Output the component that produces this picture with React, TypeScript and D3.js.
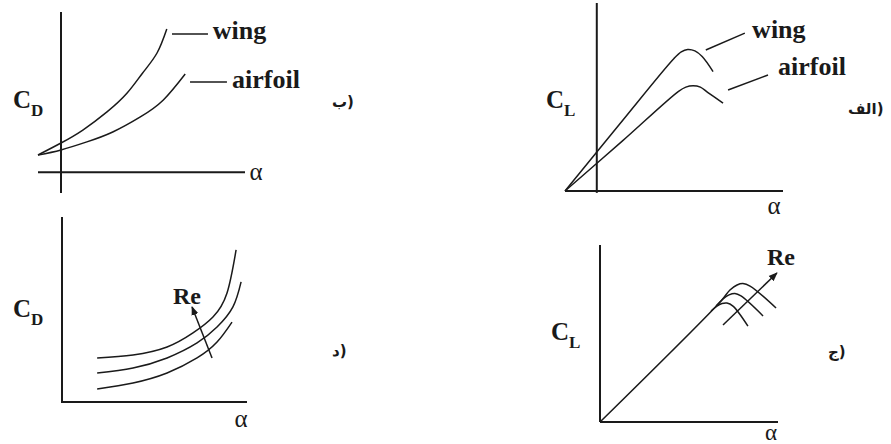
import React from "react";
import * as d3 from "d3";

// ---------- Panel الف (top right): C_L vs alpha, wing and airfoil ----------
const liftWingAlpha = [-3.5, 2.5, 8.5, 9.3, 10.0, 10.8, 11.6, 12.8];
const liftWingCL = [0, 0.71, 1.41, 1.48, 1.505, 1.49, 1.43, 1.27];
const liftAirfoilAlpha = [-3.5, 2.8, 9.0, 9.8, 10.6, 11.4, 12.2, 13.9];
const liftAirfoilCL = [0, 0.53, 1.06, 1.105, 1.12, 1.105, 1.05, 0.935];
const liftWingLeader = [[12.0, 1.5], [16.3, 1.68]];
const liftAirfoilLeader = [[14.45, 1.074], [18.85, 1.234]];
const liftWingText = [17.1, 1.628];
const liftAirfoilText = [19.95, 1.234];

// ---------- Panel ب (top left): C_D vs alpha, wing and airfoil ----------
const dragWingAlpha = [-2, 0, 1.9, 4.0, 5.75, 7.1, 8.35, 9.2];
const dragWingCD = [0.107, 0.182, 0.263, 0.376, 0.494, 0.619, 0.744, 0.894];
const dragAirfoilAlpha = [-2, 0, 2.25, 4.5, 6.9, 8.9, 10.8];
const dragAirfoilCD = [0.107, 0.139, 0.189, 0.251, 0.345, 0.451, 0.613];
const dragWingLeader = [[9.65, 0.863], [12.78, 0.863]];
const dragAirfoilLeader = [[11.22, 0.563], [14.43, 0.563]];
const dragWingText = [13.2, 0.831];
const dragAirfoilText = [14.87, 0.526];

// ---------- Panel د (bottom left): C_D vs alpha for several Re ----------
const dragRe1Alpha = [1.9, 3.84, 5.68, 7.08, 8.16, 8.92, 9.41];
const dragRe1CD = [0.238, 0.254, 0.297, 0.373, 0.459, 0.589, 0.822];
const dragRe2Alpha = [1.9, 3.84, 5.68, 7.3, 8.38, 9.24, 9.68];
const dragRe2CD = [0.157, 0.184, 0.238, 0.319, 0.405, 0.514, 0.649];
const dragRe3Alpha = [1.9, 3.84, 5.68, 7.3, 8.38, 9.19];
const dragRe3CD = [0.07, 0.103, 0.157, 0.238, 0.324, 0.432];
const dragReArrow = [[8.11, 0.238], [7.03, 0.514]];
const dragReText = [6.0, 0.53];

// ---------- Panel ج (bottom right): C_L vs alpha for several Re ----------
const liftRe1Alpha = [0, 6.8, 7.3, 7.7, 8.03, 8.43, 9.89];
const liftRe1CL = [0, 0.684, 0.746, 0.774, 0.782, 0.768, 0.644];
const liftRe2Alpha = [6.52, 6.91, 7.25, 7.58, 7.92, 9.16];
const liftRe2CL = [0.655, 0.695, 0.718, 0.726, 0.712, 0.599];
const liftRe3Alpha = [6.24, 6.57, 6.85, 7.13, 7.47, 8.31];
const liftRe3CL = [0.627, 0.655, 0.669, 0.672, 0.655, 0.542];
const liftReArrow = [[6.91, 0.548], [9.94, 0.842]];
const liftReText = [9.38, 0.887];

const panelLabels = ["الف)", "ب)", "ج)", "د)"];
const alphaLabel = "α";

const INK = "#1a1a1a";
const SERIF = "'Liberation Serif', 'Times New Roman', serif";
const ARABIC = "'DejaVu Sans', 'Noto Sans', sans-serif";

const zip = (xs: number[], ys: number[]) => xs.map((x, i) => [x, ys[i]] as [number, number]);

type Scales = { x: d3.ScaleLinear<number, number>; y: d3.ScaleLinear<number, number> };

function curvePath(s: Scales, pts: [number, number][], curve: d3.CurveFactory) {
  const gen = d3
    .line<[number, number]>()
    .x((d) => s.x(d[0]))
    .y((d) => s.y(d[1]))
    .curve(curve);
  return gen(pts) || "";
}

function Axes({ s, xEnd, yTop, yBottom, xStart }: { s: Scales; xEnd: number; yTop: number; yBottom: number; xStart: number }) {
  const x0 = s.x(0);
  const y0 = s.y(0);
  return (
    <g stroke={INK} strokeWidth={2} fill="none">
      <line x1={x0} x2={x0} y1={s.y(yTop)} y2={s.y(yBottom)} />
      <line x1={s.x(xStart)} x2={s.x(xEnd)} y1={y0} y2={y0} />
    </g>
  );
}

function CoefLabel({ x, y, main, sub }: { x: number; y: number; main: string; sub: string }) {
  return (
    <text x={x} y={y} fontFamily={SERIF} fontWeight="bold" fontSize={25} fill={INK}>
      {main}
      <tspan fontSize={17} dy={8}>
        {sub}
      </tspan>
    </text>
  );
}

function ArabicLabel({ x, y, label }: { x: number; y: number; label: string }) {
  return (
    <text x={x} y={y} fontFamily={ARABIC} fontWeight="bold" fontSize={15} fill={INK}>
      {label}
    </text>
  );
}

export default function App() {
  const sA: Scales = {
    x: d3.scaleLinear().domain([-3.5, 20.5]).range([565, 783]),
    y: d3.scaleLinear().domain([0, 2]).range([191, 3]),
  };
  const sB: Scales = {
    x: d3.scaleLinear().domain([-2, 16]).range([38, 245]),
    y: d3.scaleLinear().domain([-0.13, 1]).range([193, 12]),
  };
  const sD: Scales = {
    x: d3.scaleLinear().domain([0, 10]).range([62, 247]),
    y: d3.scaleLinear().domain([0, 1]).range([402, 217]),
  };
  const sC: Scales = {
    x: d3.scaleLinear().domain([0, 10]).range([600, 778]),
    y: d3.scaleLinear().domain([0, 1]).range([422, 245]),
  };

  const curveStyle = { stroke: INK, strokeWidth: 1.5, fill: "none" } as const;
  const textStyle = { fontFamily: SERIF, fontWeight: "bold" as const, fontSize: 26, fill: INK };
  const smooth = d3.curveNatural;
  const peaked = d3.curveCatmullRom.alpha(0.5);

  const leader = (s: Scales, l: number[][]) => (
    <line x1={s.x(l[0][0])} y1={s.y(l[0][1])} x2={s.x(l[1][0])} y2={s.y(l[1][1])} stroke={INK} strokeWidth={1.5} />
  );

  return (
    <svg
      width={891}
      height={444}
      viewBox="0 0 891 444"
      style={{ position: "absolute", left: 0, top: 0, background: "#fff" }}
    >
      <defs>
        <marker id="arr" viewBox="0 0 10 10" refX="9" refY="5" markerWidth="9" markerHeight="9" orient="auto" markerUnits="userSpaceOnUse">
          <path d="M0,1 L10,5 L0,9 Z" fill={INK} />
        </marker>
      </defs>
      <rect x={0} y={0} width={891} height={444} fill="#fff" />

      {/* ---------- Panel ب (top left) ---------- */}
      <Axes s={sB} xStart={-2} xEnd={16} yTop={1} yBottom={-0.13} />
      <path d={curvePath(sB, zip(dragWingAlpha, dragWingCD), smooth)} {...curveStyle} />
      <path d={curvePath(sB, zip(dragAirfoilAlpha, dragAirfoilCD), smooth)} {...curveStyle} />
      {leader(sB, dragWingLeader)}
      {leader(sB, dragAirfoilLeader)}
      <text x={sB.x(dragWingText[0])} y={sB.y(dragWingText[1])} {...textStyle}>wing</text>
      <text x={sB.x(dragAirfoilText[0])} y={sB.y(dragAirfoilText[1])} {...textStyle}>airfoil</text>
      <CoefLabel x={13} y={108} main="C" sub="D" />
      <text x={sB.x(16) + 11} y={sB.y(0) + 8} fontFamily={SERIF} fontSize={25} textAnchor="middle" fill={INK}>{alphaLabel}</text>
      <ArabicLabel x={332} y={107} label={panelLabels[1]} />

      {/* ---------- Panel الف (top right) ---------- */}
      <Axes s={sA} xStart={-3.5} xEnd={20.5} yTop={2} yBottom={-0.02} />
      <path d={curvePath(sA, zip(liftWingAlpha, liftWingCL), peaked)} {...curveStyle} />
      <path d={curvePath(sA, zip(liftAirfoilAlpha, liftAirfoilCL), peaked)} {...curveStyle} />
      {leader(sA, liftWingLeader)}
      {leader(sA, liftAirfoilLeader)}
      <text x={sA.x(liftWingText[0])} y={sA.y(liftWingText[1])} {...textStyle}>wing</text>
      <text x={sA.x(liftAirfoilText[0])} y={sA.y(liftAirfoilText[1])} {...textStyle}>airfoil</text>
      <CoefLabel x={546} y={108} main="C" sub="L" />
      <text x={774} y={214} fontFamily={SERIF} fontSize={25} textAnchor="middle" fill={INK}>{alphaLabel}</text>
      <ArabicLabel x={848} y={114} label={panelLabels[0]} />

      {/* ---------- Panel د (bottom left) ---------- */}
      <Axes s={sD} xStart={0} xEnd={10} yTop={1} yBottom={-0.005} />
      <path d={curvePath(sD, zip(dragRe1Alpha, dragRe1CD), smooth)} {...curveStyle} />
      <path d={curvePath(sD, zip(dragRe2Alpha, dragRe2CD), smooth)} {...curveStyle} />
      <path d={curvePath(sD, zip(dragRe3Alpha, dragRe3CD), smooth)} {...curveStyle} />
      <line
        x1={sD.x(dragReArrow[0][0])}
        y1={sD.y(dragReArrow[0][1])}
        x2={sD.x(dragReArrow[1][0])}
        y2={sD.y(dragReArrow[1][1])}
        stroke={INK}
        strokeWidth={1.5}
        markerEnd="url(#arr)"
      />
      <text x={sD.x(dragReText[0])} y={sD.y(dragReText[1])} {...textStyle} fontSize={24}>Re</text>
      <CoefLabel x={13} y={317} main="C" sub="D" />
      <text x={241} y={427} fontFamily={SERIF} fontSize={25} textAnchor="middle" fill={INK}>{alphaLabel}</text>
      <ArabicLabel x={332} y={356} label={panelLabels[3]} />

      {/* ---------- Panel ج (bottom right) ---------- */}
      <Axes s={sC} xStart={0} xEnd={10} yTop={1} yBottom={0} />
      <path d={curvePath(sC, zip(liftRe1Alpha, liftRe1CL), peaked)} {...curveStyle} />
      <path d={curvePath(sC, zip(liftRe2Alpha, liftRe2CL), peaked)} {...curveStyle} />
      <path d={curvePath(sC, zip(liftRe3Alpha, liftRe3CL), peaked)} {...curveStyle} />
      <line
        x1={sC.x(liftReArrow[0][0])}
        y1={sC.y(liftReArrow[0][1])}
        x2={sC.x(liftReArrow[1][0])}
        y2={sC.y(liftReArrow[1][1])}
        stroke={INK}
        strokeWidth={1.5}
        markerEnd="url(#arr)"
      />
      <text x={sC.x(liftReText[0])} y={sC.y(liftReText[1])} {...textStyle} fontSize={24}>Re</text>
      <CoefLabel x={551} y={340} main="C" sub="L" />
      <text x={771} y={440} fontFamily={SERIF} fontSize={23} textAnchor="middle" fill={INK}>{alphaLabel}</text>
      <ArabicLabel x={828} y={357} label={panelLabels[2]} />
    </svg>
  );
}
